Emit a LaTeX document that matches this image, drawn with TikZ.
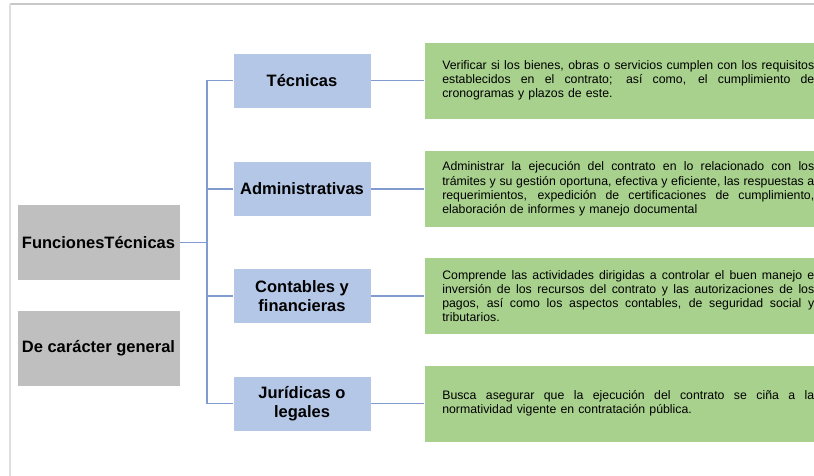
\documentclass[tikz,border=0pt]{standalone}
\usepackage{fontspec}
\setmainfont{Liberation Sans}
\usetikzlibrary{positioning}
\definecolor{grisbox}{HTML}{BFBFBF}
\definecolor{azulbox}{HTML}{B4C7E7}
\definecolor{verdebox}{HTML}{A9D18E}
\definecolor{azulline}{HTML}{7F9BCF}
\definecolor{marco}{HTML}{C8C8C8}
\setlength{\parindent}{0pt}
\newlength{\descw}
\setlength{\descw}{372pt}
\newcommand{\jline}[1]{\leavevmode\hbox to\descw{\spaceskip=0.278em plus 1fil\relax #1}\\}

\begin{document}
\begin{tikzpicture}[x=1pt,y=-1pt,
  catbox/.style={fill=grisbox,draw=white,line width=0.6pt,minimum width=163pt,minimum height=76pt,inner sep=0pt,font=\fontsize{16.5}{19}\selectfont\bfseries},
  funbox/.style={fill=azulbox,draw=white,line width=0.6pt,minimum width=138pt,minimum height=55pt,inner sep=0pt,align=center,font=\fontsize{16.5}{18.5}\selectfont\bfseries},
  descbox/.style={fill=verdebox,draw=white,line width=0.6pt,text width=\descw,inner xsep=18pt,inner ysep=0pt,minimum height=77pt,align=left,font=\fontsize{12.3}{14.2}\selectfont},
  enlace/.style={draw=azulline,line width=1.4pt}]
\useasboundingbox (0,0) rectangle (814,476);
\clip (0,0) rectangle (814,476);
\draw[marco,line width=1.5pt] (10,4) -- (814,4);
\draw[gray!25,line width=2pt] (10,4) -- (10,476);
% categorias
\node[catbox] (fun) at (98.5,242.5) {FuncionesTécnicas};
\node[catbox] (gen) at (98.5,348) {De carácter general};
% funciones
\node[funbox] (tec) at (302,80.5) {Técnicas};
\node[funbox] (adm) at (302,189) {Administrativas};
\node[funbox] (con) at (302,296) {Contables y\\financieras};
\node[funbox] (jur) at (302,403.5) {Jurídicas o\\legales};
% descripciones
\node[descbox,anchor=west] (desc-tec) at (424,80.5) {\jline{Verificar si los bienes, obras o servicios cumplen con los requisitos}\jline{establecidos en el contrato; así como, el cumplimiento de}cronogramas y plazos de este.};
\node[descbox,anchor=west] (desc-adm) at (424,189) {\jline{Administrar la ejecución del contrato en lo relacionado con los}\jline{trámites y su gestión oportuna, efectiva y eficiente, las respuestas a}\jline{requerimientos, expedición de certificaciones de cumplimiento,}elaboración de informes y manejo documental};
\node[descbox,anchor=west] (desc-con) at (424,296) {\jline{Comprende las actividades dirigidas a controlar el buen manejo e}\jline{inversión de los recursos del contrato y las autorizaciones de los}\jline{pagos, así como los aspectos contables, de seguridad social y}tributarios.};
\node[descbox,anchor=west] (desc-jur) at (424,403.5) {\jline{Busca asegurar que la ejecución del contrato se ciña a la}normatividad vigente en contratación pública.};
% conectores
\coordinate (bus) at (207,242.5);
\draw[enlace] (fun) -- (bus);
\foreach \n in {tec,adm,con,jur} {
  \draw[enlace] (bus) |- (\n);
  \draw[enlace] (\n) -- (desc-\n);
}
\end{tikzpicture}
\end{document}
